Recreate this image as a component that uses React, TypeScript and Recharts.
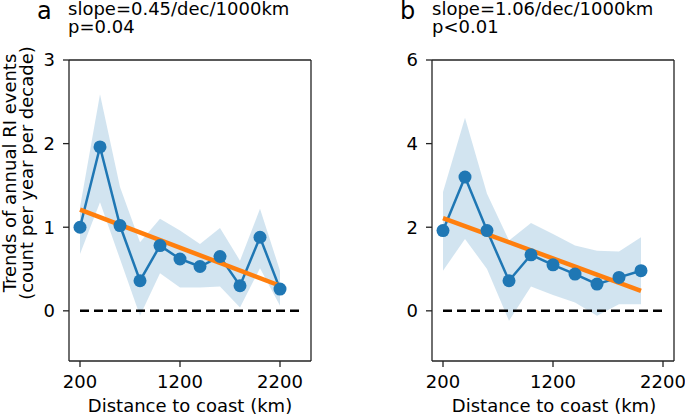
import React from 'react';
import { ComposedChart, Area, Line, XAxis, YAxis, ReferenceLine } from 'recharts';

// panel a
const distA = [200, 400, 600, 800, 1000, 1200, 1400, 1600, 1800, 2000, 2200];
const meanA = [1.0, 1.96, 1.02, 0.36, 0.78, 0.62, 0.53, 0.65, 0.3, 0.88, 0.26];
const lowA = [0.68, 1.3, 0.62, -0.06, 0.45, 0.28, 0.28, 0.29, 0.04, 0.51, 0.06];
const highA = [1.24, 2.59, 1.48, 0.82, 1.1, 0.96, 0.8, 0.99, 0.6, 1.22, 0.48];
const trendXA = [200, 2200];
const trendYA = [1.21, 0.3];
const zeroXA = [200, 2400];

// panel b
const distB = [200, 400, 600, 800, 1000, 1200, 1400, 1600, 1800, 2000];
const meanB = [1.92, 3.2, 1.92, 0.72, 1.34, 1.1, 0.88, 0.64, 0.8, 0.96];
const lowB = [0.96, 1.72, 1.0, -0.24, 0.58, 0.38, 0.2, -0.12, 0.16, 0.16];
const highB = [2.84, 4.62, 2.8, 1.68, 2.1, 1.84, 1.56, 1.44, 1.42, 1.76];
const trendXB = [200, 2000];
const trendYB = [2.22, 0.48];
const zeroXB = [200, 2200];

const xTicks = [200, 1200, 2200];
const yTicksA = [0, 1, 2, 3];
const yTicksB = [0, 2, 4, 6];

const BLUE = '#1f77b4';
const ORANGE = '#ff7f0e';
const SPINE = '#222';
const FONT = '"DejaVu Sans", sans-serif';

interface PanelProps {
    left: number;
    width: number;
    yAxisWidth: number;
    rightMargin: number;
    dist: number[];
    mean: number[];
    low: number[];
    high: number[];
    trendX: number[];
    trendY: number[];
    zeroX: number[];
    xDomain: [number, number];
    yDomain: [number, number];
    yTicks: number[];
}

function Panel(p: PanelProps) {
    const rows = p.dist.map((x, i) => ({ x, y: p.mean[i], band: [p.low[i], p.high[i]] }));
    const trend = p.trendX.map((x, i) => ({ x, y: p.trendY[i] }));
    const zero = p.zeroX.map((x) => ({ x, y: 0 }));
    const tick = { fontSize: 18, fontFamily: FONT, fill: '#000' };

    return (
        <div style={{ position: 'absolute', left: p.left, top: 0 }}>
            <ComposedChart
                width={p.width}
                height={414}
                data={rows}
                margin={{ top: 60, right: p.rightMargin, bottom: 0, left: 0 }}
            >
                <XAxis
                    dataKey="x"
                    type="number"
                    domain={p.xDomain}
                    ticks={xTicks}
                    allowDataOverflow
                    height={53}
                    tick={tick}
                    tickSize={6}
                    tickMargin={8}
                    stroke={SPINE}
                    axisLine={{ stroke: SPINE, strokeWidth: 1.3 }}
                    tickLine={{ stroke: SPINE, strokeWidth: 1.3 }}
                />
                <YAxis
                    type="number"
                    domain={p.yDomain}
                    ticks={p.yTicks}
                    allowDataOverflow
                    width={p.yAxisWidth}
                    tick={tick}
                    tickSize={6}
                    tickMargin={8}
                    stroke={SPINE}
                    axisLine={{ stroke: SPINE, strokeWidth: 1.3 }}
                    tickLine={{ stroke: SPINE, strokeWidth: 1.3 }}
                />
                <Area
                    dataKey="band"
                    type="linear"
                    fill={BLUE}
                    fillOpacity={0.2}
                    stroke="none"
                    isAnimationActive={false}
                />
                <Line
                    data={zero}
                    dataKey="y"
                    type="linear"
                    stroke="#000"
                    strokeWidth={2.5}
                    strokeDasharray="9 5"
                    dot={false}
                    isAnimationActive={false}
                />
                <Line
                    dataKey="y"
                    type="linear"
                    stroke={BLUE}
                    strokeWidth={2.5}
                    dot={{ r: 6.5, fill: BLUE, stroke: BLUE, strokeWidth: 0 }}
                    isAnimationActive={false}
                />
                <Line
                    data={trend}
                    dataKey="y"
                    type="linear"
                    stroke={ORANGE}
                    strokeWidth={4.5}
                    dot={false}
                    isAnimationActive={false}
                />
                {/* top and right spines */}
                <ReferenceLine y={p.yDomain[1]} stroke={SPINE} strokeWidth={1.3} />
                <ReferenceLine x={p.xDomain[1]} stroke={SPINE} strokeWidth={1.3} />
            </ComposedChart>
        </div>
    );
}

export default function App() {
    const txt = { fontFamily: FONT, fill: '#000' };
    return (
        <div style={{ position: 'absolute', left: 0, top: 0, width: 685, height: 414, background: '#fff' }}>
            <Panel
                left={0}
                width={320}
                yAxisWidth={69}
                rightMargin={9}
                dist={distA}
                mean={meanA}
                low={lowA}
                high={highA}
                trendX={trendXA}
                trendY={trendYA}
                zeroX={zeroXA}
                xDomain={[90, 2510]}
                yDomain={[-0.6, 3]}
                yTicks={yTicksA}
            />
            <Panel
                left={360}
                width={325}
                yAxisWidth={72}
                rightMargin={11}
                dist={distB}
                mean={meanB}
                low={lowB}
                high={highB}
                trendX={trendXB}
                trendY={trendYB}
                zeroX={zeroXB}
                xDomain={[100, 2300]}
                yDomain={[-1.2, 6]}
                yTicks={yTicksB}
            />
            <svg width={685} height={414} style={{ position: 'absolute', left: 0, top: 0, pointerEvents: 'none' }}>
                <text x={37} y={18.5} fontSize={24} {...txt}>a</text>
                <text x={68} y={15} fontSize={18} {...txt}>slope=0.45/dec/1000km</text>
                <text x={68} y={32.5} fontSize={18} {...txt}>p=0.04</text>
                <text x={400} y={18.5} fontSize={24} {...txt}>b</text>
                <text x={432} y={15} fontSize={18} {...txt}>slope=1.06/dec/1000km</text>
                <text x={432} y={32.5} fontSize={18} {...txt}>p&lt;0.01</text>
                <g transform="translate(0,173) rotate(-90)">
                    <text x={0} y={15.5} fontSize={18} textAnchor="middle" {...txt}>Trends of annual RI events</text>
                    <text x={0} y={33} fontSize={18} textAnchor="middle" {...txt}>(count per year per decade)</text>
                </g>
                <text x={190} y={411.5} fontSize={18} textAnchor="middle" {...txt}>Distance to coast (km)</text>
                <text x={554} y={411.5} fontSize={18} textAnchor="middle" {...txt}>Distance to coast (km)</text>
            </svg>
        </div>
    );
}
